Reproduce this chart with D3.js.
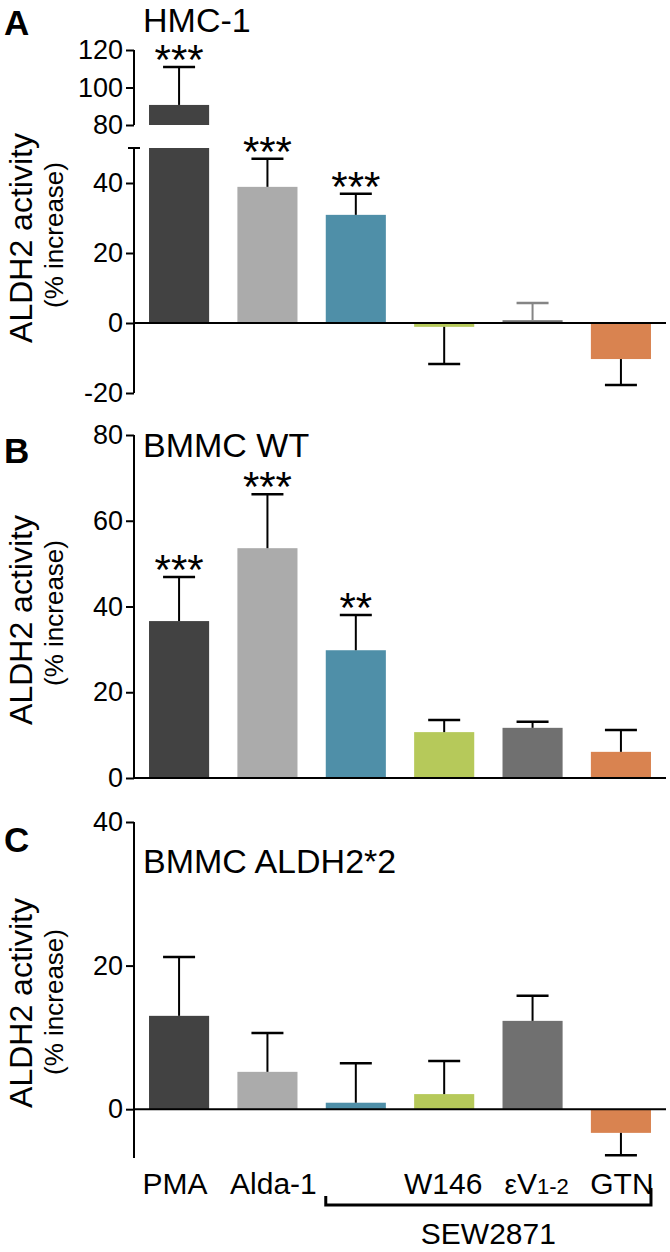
<!DOCTYPE html>
<html>
<head>
<meta charset="utf-8">
<script src="https://cdn.jsdelivr.net/npm/d3@7"></script>
<style>
  html, body { margin: 0; padding: 0; background: #fff; }
  svg { display: block; }
  text { font-family: "Liberation Sans", Arial, sans-serif; fill: #000; }
</style>
</head>
<body>
<svg id="chart" width="670" height="1252"></svg>
<script>
// ---------- DATA ----------
const categories = ["PMA", "Alda-1", "SEW2871", "SEW2871+W146", "SEW2871+εV1-2", "SEW2871+GTN"];
const tickLabels = ["PMA", "Alda-1", "", "W146", "εV1-2", "GTN"];
const bracketLabel = "SEW2871";
const barColors = ["#424242", "#ababab", "#4f8fa8", "#b6c95a", "#707070", "#d98350"];

// Panel A: HMC-1
const meansA = [90.7, 38.9, 30.9, -1.1, 0.8, -10.3];
const semA   = [20.3, 8.0, 6.0, 10.6, 4.9, 7.4];
const starsA = ["***", "***", "***", "", "", ""];
const ticksA_low = [-20, 0, 20, 40];
const ticksA_high = [80, 100, 120];

// Panel B: BMMC WT
const meansB = [36.6, 53.6, 29.8, 10.7, 11.7, 6.1];
const semB   = [10.3, 12.6, 8.2, 2.8, 1.4, 5.1];
const starsB = ["***", "***", "**", "", "", ""];
const ticksB = [0, 20, 40, 60, 80];

// Panel C: BMMC ALDH2*2
const meansC = [13.0, 5.2, 0.9, 2.1, 12.3, -3.3];
const semC   = [8.2, 5.4, 5.5, 4.6, 3.5, 3.1];
const starsC = ["", "", "", "", "", ""];
const ticksC = [0, 20, 40];

// ---------- LAYOUT ----------
const svg = d3.select("#chart");
const FONT = '"Liberation Sans", Arial, sans-serif';
const axisX = 134, rightX = 666;
const x = d3.scaleBand().domain(categories).range([axisX, rightX])
  .paddingInner(0.32).paddingOuter(0.17);
const capW = 32;
const labelDx = [-4, 6, 0, -1, 4, 1];
const cxOf = i => x(categories[i]) + x.bandwidth() / 2;

function drawAxis(g, scale, ticks, y0, y1) {
  const ax = d3.axisLeft(scale).tickValues(ticks).tickSize(8).tickPadding(3)
    .tickFormat(d => String(d));
  const a = g.append("g").attr("transform", `translate(${axisX},0)`).call(ax);
  a.select(".domain").remove();
  a.selectAll(".tick line").attr("stroke", "#000").attr("stroke-width", 2);
  a.selectAll(".tick text").attr("font-size", 27).attr("fill", "#000")
    .style("font-family", FONT);
  g.append("line").attr("x1", axisX).attr("x2", axisX).attr("y1", y0).attr("y2", y1)
    .attr("stroke", "#000").attr("stroke-width", 2);
}

function drawBars(g, y, means, clipTop) {
  means.forEach((m, i) => {
    const y0 = y(0);
    let yv = y(m);
    if (clipTop !== undefined && yv < clipTop) yv = clipTop;
    g.append("rect").attr("x", x(categories[i])).attr("width", x.bandwidth())
      .attr("y", Math.min(y0, yv)).attr("height", Math.max(Math.abs(y0 - yv), 3))
      .attr("fill", barColors[i]);
  });
}

function drawError(g, y, i, m, s, col) {
  const cx = cxOf(i);
  const dir = m >= 0 ? 1 : -1;
  const yb = y(m), ye = y(m + dir * s);
  g.append("line").attr("x1", cx).attr("x2", cx).attr("y1", yb).attr("y2", ye)
    .attr("stroke", col || "#000").attr("stroke-width", 2);
  g.append("line").attr("x1", cx - capW / 2).attr("x2", cx + capW / 2).attr("y1", ye).attr("y2", ye)
    .attr("stroke", col || "#000").attr("stroke-width", 2.5);
}

function drawStar(g, y, i, m, s, star) {
  if (!star) return;
  g.append("text").attr("x", cxOf(i)).attr("y", y(m + s) + 7)
    .attr("text-anchor", "middle").attr("font-size", 42).text(star);
}

function zeroLine(g, y) {
  g.append("line").attr("x1", axisX).attr("x2", rightX).attr("y1", y(0)).attr("y2", y(0))
    .attr("stroke", "#000").attr("stroke-width", 2);
}

function yLabels(cy, cy2) {
  svg.append("text").attr("transform", `translate(32,${cy}) rotate(-90)`)
    .attr("text-anchor", "middle").attr("font-size", 32).text("ALDH2 activity");
  svg.append("text").attr("transform", `translate(63,${cy2}) rotate(-90)`)
    .attr("text-anchor", "middle").attr("font-size", 26).text("(% increase)");
}

function panelLetter(letter, yb) {
  svg.append("text").attr("x", 4).attr("y", yb).attr("font-size", 35)
    .attr("font-weight", "bold").text(letter);
}

function title(t, yb) {
  svg.append("text").attr("x", 143).attr("y", yb).attr("font-size", 34).text(t);
}

// ---------- PANEL A ----------
{
  const g = svg.append("g");
  const yLow = d3.scaleLinear().domain([-20, 50]).range([393, 148]);
  const yHigh = d3.scaleLinear().domain([80, 120]).range([125, 50]);
  drawAxis(g, yLow, ticksA_low, 148, 393);
  drawAxis(g, yHigh, ticksA_high, 50, 125);
  g.append("line").attr("x1", axisX - 6).attr("x2", axisX + 6).attr("y1", 148).attr("y2", 148)
    .attr("stroke", "#000").attr("stroke-width", 2);
  drawBars(g, yLow, meansA, 148);
  meansA.forEach((m, i) => {
    if (m <= 80) return;
    g.append("rect").attr("x", x(categories[i])).attr("width", x.bandwidth())
      .attr("y", yHigh(m)).attr("height", yHigh(80) - yHigh(m)).attr("fill", barColors[i]);
  });
  zeroLine(g, yLow);
  const errColorsA = ["#000", "#000", "#000", "#000", "#858585", "#000"];
  meansA.forEach((m, i) => {
    const sc = m > 80 ? yHigh : yLow;
    drawError(g, sc, i, m, semA[i], errColorsA[i]);
    drawStar(g, sc, i, m, semA[i], starsA[i]);
  });
  yLabels(238, 235);
  panelLetter("A", 35);
  title("HMC-1", 32);
}

// ---------- PANEL B ----------
{
  const g = svg.append("g");
  const y = d3.scaleLinear().domain([0, 80]).range([778, 435]);
  drawAxis(g, y, ticksB, 435, 778);
  drawBars(g, y, meansB);
  zeroLine(g, y);
  meansB.forEach((m, i) => {
    drawError(g, y, i, m, semB[i]);
    drawStar(g, y, i, m, semB[i], starsB[i]);
  });
  yLabels(620, 613);
  panelLetter("B", 463);
  title("BMMC WT", 457);
}

// ---------- PANEL C ----------
{
  const g = svg.append("g");
  const y = d3.scaleLinear().domain([-6.8, 40]).range([1158, 822]);
  drawAxis(g, y, ticksC, 822, 1158);
  drawBars(g, y, meansC);
  zeroLine(g, y);
  meansC.forEach((m, i) => {
    drawError(g, y, i, m, semC[i]);
    drawStar(g, y, i, m, semC[i], starsC[i]);
  });
  yLabels(1003, 1002);
  panelLetter("C", 852);
  title("BMMC ALDH2*2", 873);

  // x labels
  tickLabels.forEach((lab, i) => {
    if (!lab) return;
    const t = g.append("text").attr("x", cxOf(i) + labelDx[i]).attr("y", 1194)
      .attr("text-anchor", "middle").attr("font-size", 30);
    if (lab === "εV1-2") {
      t.append("tspan").attr("font-size", 28).text("ε");
      t.append("tspan").text("V");
      t.append("tspan").attr("font-size", 22).text("1-2");
    } else {
      t.text(lab);
    }
  });
  // SEW2871 bracket
  const bx0 = x(categories[2]), bx1 = x(categories[5]) + x.bandwidth();
  g.append("path")
    .attr("d", `M${bx0},1196 L${bx0},1205 L${bx1},1205 L${bx1},1188`)
    .attr("fill", "none").attr("stroke", "#000").attr("stroke-width", 3);
  g.append("text").attr("x", (bx0 + bx1) / 2).attr("y", 1244)
    .attr("text-anchor", "middle").attr("font-size", 30).text(bracketLabel);
}
</script>
</body>
</html>
